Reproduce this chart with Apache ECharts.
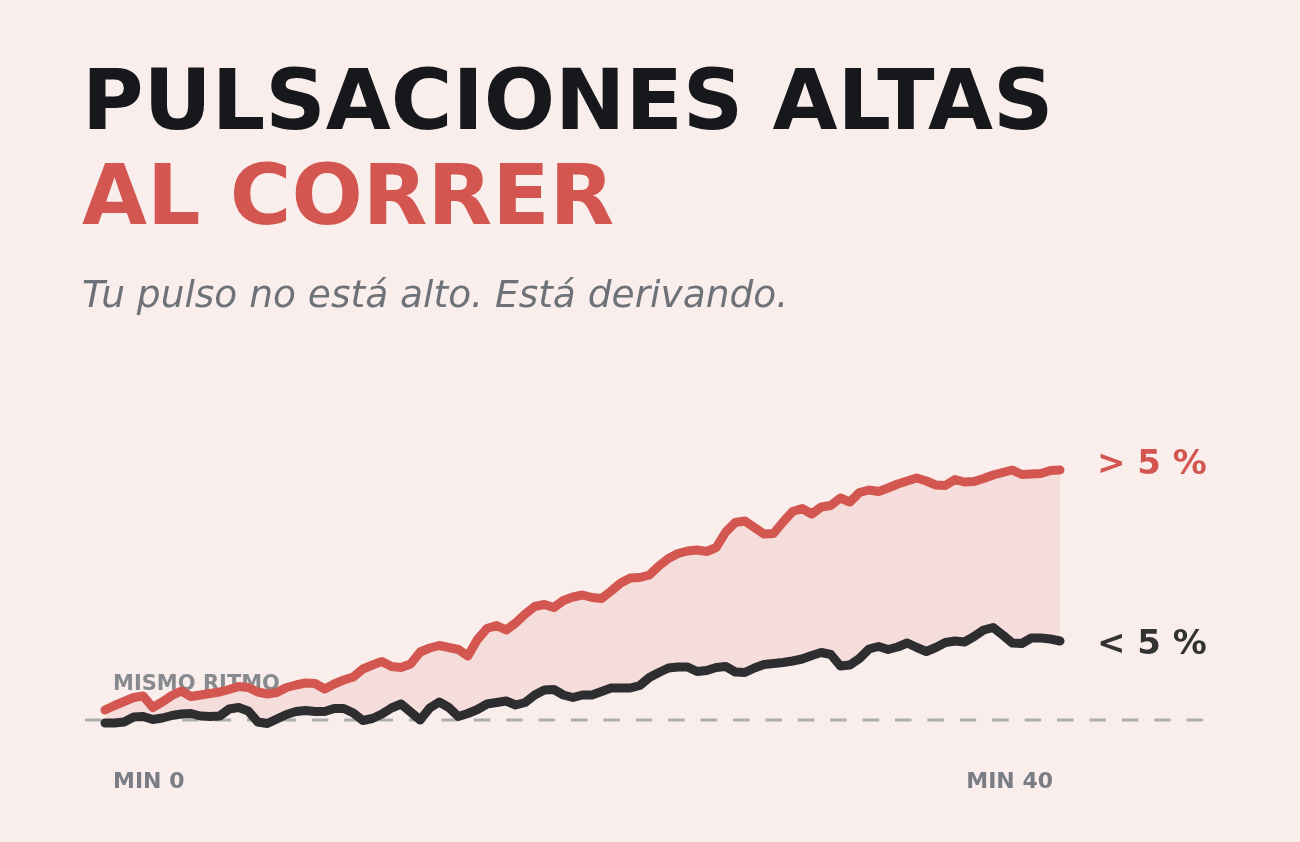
<!DOCTYPE html>
<html>
<head>
<meta charset="utf-8">
<script src="https://cdn.jsdelivr.net/npm/echarts@6/dist/echarts.min.js"></script>
<style>
  html, body { margin: 0; padding: 0; background: #f9eeec; }
  #chart { width: 1300px; height: 842px; }
</style>
</head>
<body>
<div id="chart"></div>
<script>
// ---- data (drift of heart rate vs. same pace, %) ----
const minutes = Array.from({ length: 101 }, (_, i) => (i * 0.4).toFixed(1));
const redDrift = [
  0.20, 0.29, 0.37, 0.45, 0.48, 0.25, 0.36, 0.49, 0.58, 0.47,
  0.50, 0.53, 0.56, 0.61, 0.67, 0.65, 0.56, 0.52, 0.55, 0.65,
  0.70, 0.74, 0.73, 0.62, 0.72, 0.80, 0.86, 1.02, 1.10, 1.17,
  1.07, 1.05, 1.12, 1.36, 1.44, 1.49, 1.45, 1.41, 1.28, 1.61,
  1.83, 1.89, 1.80, 1.94, 2.12, 2.27, 2.31, 2.25, 2.39, 2.46,
  2.50, 2.45, 2.43, 2.58, 2.74, 2.84, 2.85, 2.90, 3.08, 3.23,
  3.33, 3.38, 3.40, 3.37, 3.45, 3.76, 3.95, 3.98, 3.85, 3.72,
  3.73, 3.96, 4.17, 4.23, 4.12, 4.26, 4.29, 4.44, 4.36, 4.55,
  4.60, 4.57, 4.64, 4.72, 4.78, 4.84, 4.78, 4.70, 4.69, 4.81,
  4.76, 4.77, 4.83, 4.90, 4.95, 5.00, 4.91, 4.92, 4.93, 4.99,
  5.00
];
const blackDrift = [
  -0.06, -0.06, -0.04, 0.06, 0.07, 0.01, 0.04, 0.09, 0.12, 0.13,
  0.08, 0.07, 0.08, 0.22, 0.25, 0.18, -0.04, -0.07, 0.02, 0.11,
  0.17, 0.19, 0.17, 0.17, 0.23, 0.23, 0.14, -0.01, 0.03, 0.12,
  0.24, 0.32, 0.16, 0.00, 0.24, 0.36, 0.25, 0.07, 0.13, 0.21,
  0.32, 0.35, 0.38, 0.30, 0.35, 0.50, 0.60, 0.61, 0.50, 0.45,
  0.50, 0.50, 0.57, 0.64, 0.64, 0.64, 0.69, 0.85, 0.95, 1.04,
  1.06, 1.06, 0.97, 0.99, 1.05, 1.07, 0.96, 0.95, 1.04, 1.11,
  1.13, 1.15, 1.18, 1.22, 1.29, 1.35, 1.31, 1.08, 1.10, 1.23,
  1.42, 1.47, 1.41, 1.46, 1.54, 1.45, 1.37, 1.45, 1.55, 1.58,
  1.56, 1.67, 1.80, 1.85, 1.70, 1.54, 1.53, 1.64, 1.64, 1.62,
  1.58
];
const tickLabels = ['MIN 0', 'MIN 40'];
const endLabels = ['> 5 %', '< 5 %'];
const baselineLabel = 'MISMO RITMO';
const titleLines = ['PULSACIONES ALTAS', 'AL CORRER'];
const subtitle = 'Tu pulso no está alto. Está derivando.';

// ---- styles ----
const RED = '#d35750';
const DARK = '#2e2e31';
const FONT = 'DejaVu Sans';

const bandDiff = redDrift.map((v, i) => +(v - blackDrift[i]).toFixed(2));

const chart = echarts.init(document.getElementById('chart'), null, { renderer: 'canvas' });

const option = {
  backgroundColor: '#f9eeec',
  animation: false,
  title: [
    {
      text: titleLines[0], left: 82, top: 65, padding: 0,
      textStyle: { fontFamily: FONT, fontSize: 84, fontWeight: 'bold', color: '#16181b', lineHeight: 84 }
    },
    {
      text: titleLines[1], left: 82, top: 160, padding: 0,
      textStyle: { fontFamily: FONT, fontSize: 84, fontWeight: 'bold', color: RED, lineHeight: 84 }
    },
    {
      text: subtitle, left: 82, top: 279, padding: 0,
      textStyle: { fontFamily: FONT, fontSize: 37.5, fontStyle: 'italic', fontWeight: 'normal', color: '#6d7278', lineHeight: 37.5 }
    }
  ],
  grid: { left: 105, right: 240, top: 420, bottom: 92, containLabel: false },
  xAxis: {
    type: 'category', data: minutes, boundaryGap: false,
    axisLine: { show: false }, axisTick: { show: false }, axisLabel: { show: false }, splitLine: { show: false }
  },
  yAxis: {
    type: 'value', min: -0.6, max: 6,
    axisLine: { show: false }, axisTick: { show: false }, axisLabel: { show: false }, splitLine: { show: false }
  },
  series: [
    {
      name: 'base', type: 'line', data: blackDrift, stack: 'band', stackStrategy: 'all',
      symbol: 'none', lineStyle: { opacity: 0 }, silent: true, z: 1
    },
    {
      name: 'band', type: 'line', data: bandDiff, stack: 'band', stackStrategy: 'all',
      symbol: 'none', lineStyle: { opacity: 0 }, areaStyle: { color: 'rgba(212,87,80,0.16)' }, silent: true, z: 1
    },
    {
      name: 'Por debajo', type: 'line', data: blackDrift, symbol: 'none', z: 3,
      lineStyle: { color: DARK, width: 9, cap: 'round', join: 'round' },
      endLabel: {
        show: true, formatter: endLabels[1], distance: 37, offset: [0, 4],
        fontFamily: FONT, fontSize: 34, fontWeight: 'bold', color: '#333333'
      }
    },
    {
      name: 'Por encima', type: 'line', data: redDrift, symbol: 'none', z: 4,
      lineStyle: { color: RED, width: 9, cap: 'round', join: 'round' },
      endLabel: {
        show: true, formatter: endLabels[0], distance: 37, offset: [0, -5],
        fontFamily: FONT, fontSize: 34, fontWeight: 'bold', color: RED
      }
    }
  ]
};

chart.setOption(option);

const y0 = chart.convertToPixel({ yAxisIndex: 0 }, 0);
const xStart = chart.convertToPixel({ xAxisIndex: 0 }, 0);
const xEnd = chart.convertToPixel({ xAxisIndex: 0 }, minutes.length - 1);

chart.setOption({
  graphic: [
    {
      type: 'line', z: 0, silent: true,
      shape: { x1: xStart - 20, y1: y0, x2: xEnd + 144, y2: y0 },
      style: { stroke: '#aeadb0', lineWidth: 3, lineDash: [16.5, 15.9] }
    },
    {
      type: 'text', z: 0, silent: true, x: xStart + 8, y: y0 - 35,
      style: { text: baselineLabel, fill: '#878a8f', font: 'bold 21px "DejaVu Sans"', align: 'left', verticalAlign: 'middle' }
    },
    {
      type: 'text', z: 0, silent: true, x: xStart + 8, y: y0 + 62.5,
      style: { text: tickLabels[0], fill: '#7a7e84', font: 'bold 22px "DejaVu Sans"', align: 'left', verticalAlign: 'middle' }
    },
    {
      type: 'text', z: 0, silent: true, x: xEnd - 7, y: y0 + 62.5,
      style: { text: tickLabels[1], fill: '#7a7e84', font: 'bold 22px "DejaVu Sans"', align: 'right', verticalAlign: 'middle' }
    }
  ]
});
</script>
</body>
</html>
